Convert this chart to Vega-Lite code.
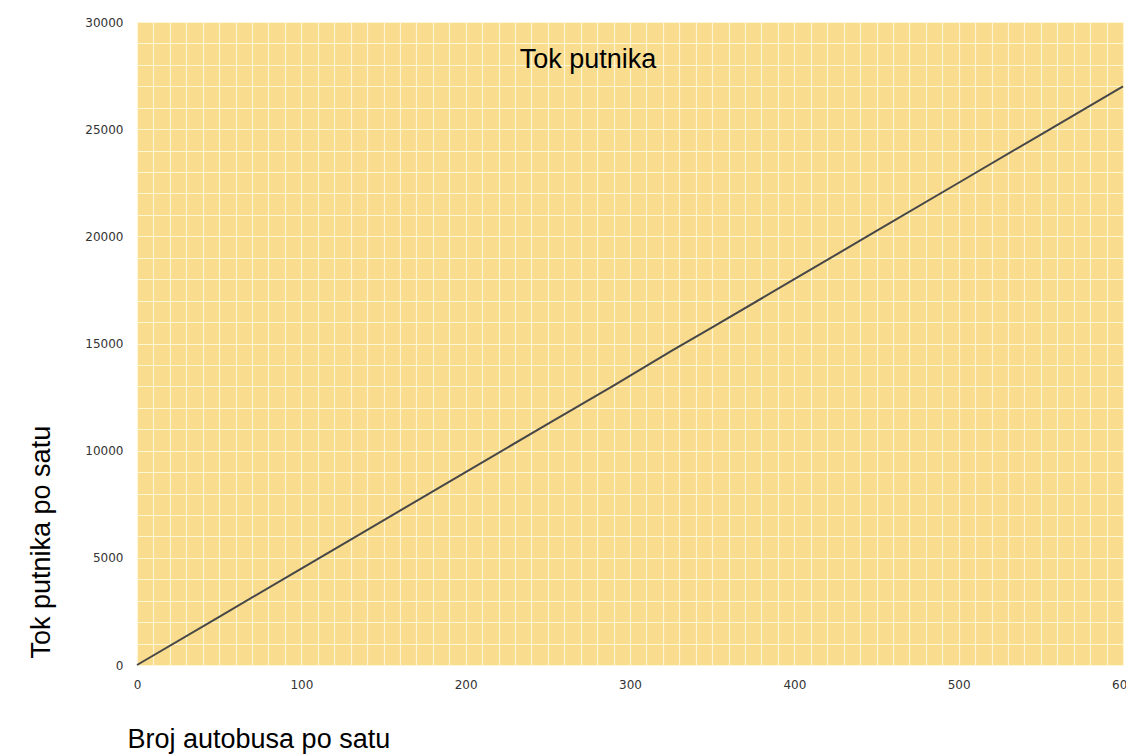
{
  "$schema": "https://vega.github.io/schema/vega-lite/v6.json",
  "autosize": {"type": "none"},
  "padding": {"left": 137, "top": 22, "right": 3, "bottom": 90},
  "width": 986,
  "height": 643,
  "background": "#ffffff",
  "config": {
    "view": {"fill": "#FADC8E", "stroke": null},
    "font": "Liberation Sans"
  },
  "title": {
    "text": "Tok putnika",
    "anchor": "middle",
    "dx": -42,
    "dy": 34,
    "offset": -45,
    "baseline": "alphabetic",
    "fontSize": 27,
    "fontWeight": "normal",
    "color": "#000000",
    "font": "Liberation Sans"
  },
  "data": {
    "values": [
      {"buses": 0, "flow": 0},
      {"buses": 50, "flow": 2250},
      {"buses": 100, "flow": 4500},
      {"buses": 150, "flow": 6750},
      {"buses": 200, "flow": 9000},
      {"buses": 250, "flow": 11250},
      {"buses": 290, "flow": 13030},
      {"buses": 325, "flow": 14640},
      {"buses": 350, "flow": 15750},
      {"buses": 400, "flow": 18000},
      {"buses": 450, "flow": 20250},
      {"buses": 500, "flow": 22500},
      {"buses": 550, "flow": 24750},
      {"buses": 600, "flow": 27000}
    ]
  },
  "mark": {"type": "line", "color": "#474747", "strokeWidth": 2},
  "encoding": {
    "x": {
      "field": "buses",
      "type": "quantitative",
      "scale": {"domain": [0, 600], "nice": false},
      "axis": {
        "values": [0,10,20,30,40,50,60,70,80,90,100,110,120,130,140,150,160,170,180,190,200,210,220,230,240,250,260,270,280,290,300,310,320,330,340,350,360,370,380,390,400,410,420,430,440,450,460,470,480,490,500,510,520,530,540,550,560,570,580,590,600],
        "labelExpr": "datum.value % 100 === 0 ? datum.label : ''",
        "format": "d",
        "grid": true,
        "gridColor": "#FFF6D2",
        "gridWidth": 1.2,
        "gridOpacity": 1,
        "domain": false,
        "ticks": false,
        "labelFont": "DejaVu Sans",
        "labelFontSize": 12,
        "labelColor": "#333333",
        "labelPadding": 14,
        "labelOverlap": false,
        "labelFlush": false,
        "title": "Broj autobusa po satu",
        "titleFont": "Liberation Sans",
        "titleFontSize": 27,
        "titleFontWeight": "normal",
        "titleColor": "#000000",
        "titleAnchor": "start",
        "titleAlign": "left",
        "titleX": -10,
        "titleY": 82,
        "titleBaseline": "alphabetic"
      }
    },
    "y": {
      "field": "flow",
      "type": "quantitative",
      "scale": {"domain": [0, 30000], "nice": false},
      "axis": {
        "values": [0,1000,2000,3000,4000,5000,6000,7000,8000,9000,10000,11000,12000,13000,14000,15000,16000,17000,18000,19000,20000,21000,22000,23000,24000,25000,26000,27000,28000,29000,30000],
        "labelExpr": "datum.value % 5000 === 0 ? datum.value : ''",
        "grid": true,
        "gridColor": "#FFF6D2",
        "gridWidth": 1.2,
        "gridOpacity": 1,
        "domain": false,
        "ticks": false,
        "labelFont": "DejaVu Sans",
        "labelFontSize": 12,
        "labelColor": "#333333",
        "labelPadding": 14,
        "labelOverlap": false,
        "labelFlush": false,
        "title": "Tok putnika po satu",
        "titleFont": "Liberation Sans",
        "titleFontSize": 27,
        "titleFontWeight": "normal",
        "titleColor": "#000000",
        "titleAngle": -90,
        "titleAlign": "left",
        "titleBaseline": "alphabetic",
        "titleX": -88,
        "titleY": 636
      }
    }
  }
}
